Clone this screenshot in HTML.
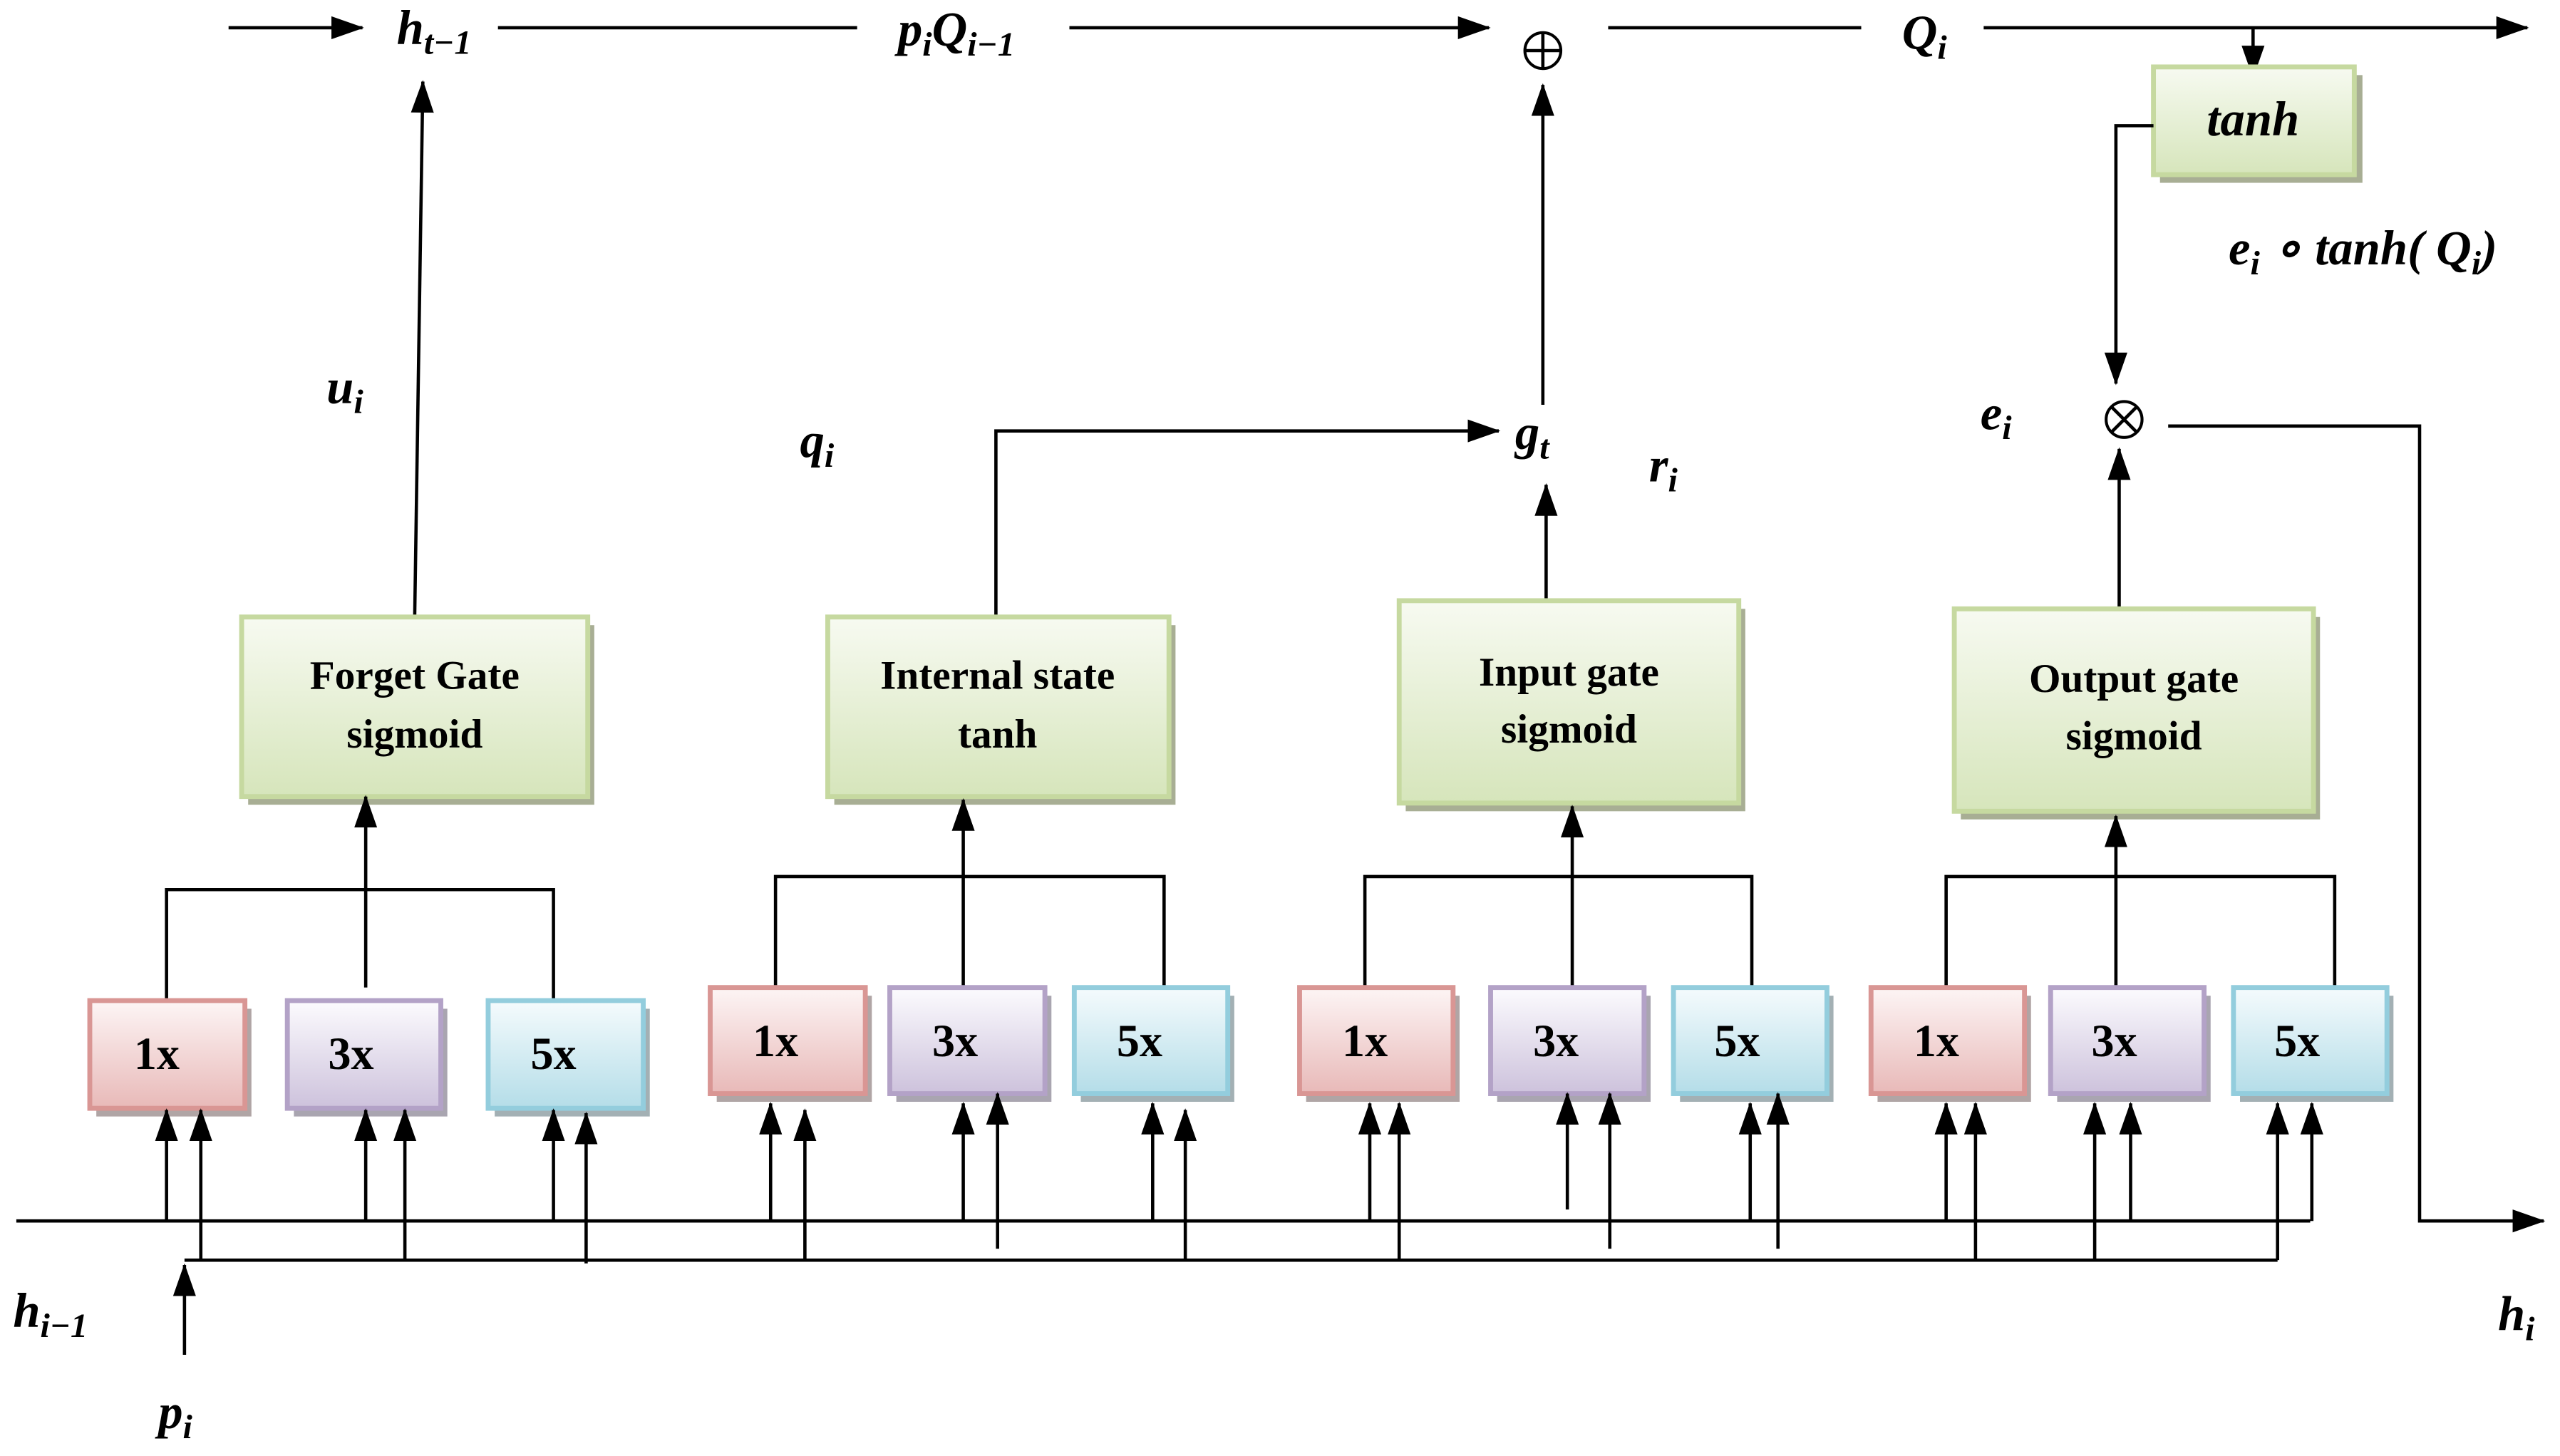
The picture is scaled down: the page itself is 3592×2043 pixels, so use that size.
<!DOCTYPE html>
<html><head><meta charset="utf-8"><style>
html,body{margin:0;padding:0;background:#fff;}
svg{display:block;}
.m{font-family:"Liberation Serif",serif;font-weight:bold;font-style:italic;font-size:30px;fill:#000;}
.s{font-size:21px;}
.b{font-family:"Liberation Serif",serif;font-weight:bold;font-size:25px;fill:#000;text-anchor:middle;}
.k{font-family:"Liberation Serif",serif;font-weight:bold;font-size:28px;fill:#000;text-anchor:middle;}
line,polyline{stroke:#000;stroke-width:2;fill:none;}
</style></head><body>
<svg width="3592" height="2043" viewBox="0 0 1568 892" preserveAspectRatio="none" xmlns="http://www.w3.org/2000/svg">
<defs>
<marker id="A" markerWidth="20" markerHeight="20" refX="19" refY="10" orient="auto" markerUnits="userSpaceOnUse" viewBox="0 0 20 20"><path d="M0,3 L20,10 L0,17 z" fill="#000"/></marker>
<linearGradient id="g" x1="0" y1="0" x2="0" y2="1"><stop offset="0" stop-color="#f7faf1"/><stop offset="1" stop-color="#d6e5bb"/></linearGradient>
<linearGradient id="r" x1="0" y1="0" x2="0" y2="1"><stop offset="0" stop-color="#fdf5f5"/><stop offset="1" stop-color="#e8b9b8"/></linearGradient>
<linearGradient id="p" x1="0" y1="0" x2="0" y2="1"><stop offset="0" stop-color="#fcfbfe"/><stop offset="1" stop-color="#cdc2dc"/></linearGradient>
<linearGradient id="c" x1="0" y1="0" x2="0" y2="1"><stop offset="0" stop-color="#f5fbfd"/><stop offset="1" stop-color="#b4dde8"/></linearGradient>
</defs>

<line x1="140" y1="17" x2="222" y2="17" marker-end="url(#A)"/>
<text class="m" x="243" y="27">h<tspan class="s" dy="6">t−1</tspan></text>
<line x1="305" y1="17" x2="525" y2="17"/>
<text class="m" x="550" y="28">p<tspan class="s" dy="6">i</tspan><tspan dy="-6">Q</tspan><tspan class="s" dy="6">i−1</tspan></text>
<line x1="655" y1="17" x2="912" y2="17" marker-end="url(#A)"/>
<circle cx="945" cy="31" r="11" fill="none" stroke="#000" stroke-width="1.8"/>
<line x1="934" y1="31" x2="956" y2="31" stroke-width="1.8"/><line x1="945" y1="20" x2="945" y2="42" stroke-width="1.8"/>
<line x1="985" y1="17" x2="1140" y2="17"/>
<text class="m" x="1165" y="30">Q<tspan class="s" dy="6">i</tspan></text>
<line x1="1215" y1="17" x2="1548" y2="17" marker-end="url(#A)"/>
<line x1="1380" y1="17" x2="1380" y2="47" marker-end="url(#A)"/>

<rect x="1323" y="46" width="124" height="66" fill="#a8ae94"/>
<rect x="1319" y="41" width="123" height="66" fill="url(#g)" stroke="#c6d9a0" stroke-width="3"/>
<text class="m" x="1380" y="83" text-anchor="middle">tanh</text>
<polyline points="1319,77 1296,77 1296,235" marker-end="url(#A)"/>
<text class="m" x="1365" y="162">e<tspan class="s" dy="6">i</tspan><tspan dy="-6"> ∘ tanh( Q</tspan><tspan class="s" dy="6">i</tspan><tspan dy="-6">)</tspan></text>
<text class="m" x="1213" y="263">e<tspan class="s" dy="6">i</tspan></text>
<circle cx="1301" cy="257" r="11" fill="none" stroke="#000" stroke-width="1.8"/>
<line x1="1293" y1="249" x2="1309" y2="265" stroke-width="1.8"/><line x1="1309" y1="249" x2="1293" y2="265" stroke-width="1.8"/>
<polyline points="1328,261 1482,261 1482,748 1558,748" marker-end="url(#A)"/>
<text class="m" x="1530" y="815">h<tspan class="s" dy="6">i</tspan></text>

<text class="m" x="200" y="247">u<tspan class="s" dy="6">i</tspan></text>
<text class="m" x="490" y="280">q<tspan class="s" dy="6">i</tspan></text>
<text class="m" x="928" y="275">g<tspan class="s" dy="6">t</tspan></text>
<text class="m" x="1010" y="295">r<tspan class="s" dy="6">i</tspan></text>
<text class="m" x="8" y="813">h<tspan class="s" dy="6">i−1</tspan></text>
<text class="m" x="97" y="875">p<tspan class="s" dy="6">i</tspan></text>

<line x1="254" y1="378" x2="259" y2="50" marker-end="url(#A)"/>
<polyline points="610,378 610,264 918,264" marker-end="url(#A)"/>
<line x1="945" y1="248" x2="945" y2="52" marker-end="url(#A)"/>
<line x1="947" y1="368" x2="947" y2="297" marker-end="url(#A)"/>
<line x1="1298" y1="373" x2="1298" y2="275" marker-end="url(#A)"/>

<g>
<rect x="152" y="383" width="212" height="110" fill="#a8ae94"/>
<rect x="148" y="378" width="212" height="110" fill="url(#g)" stroke="#c6d9a0" stroke-width="3"/>
<text class="b" x="254" y="422">Forget Gate</text><text class="b" x="254" y="458">sigmoid</text>
<rect x="511" y="383" width="209" height="110" fill="#a8ae94"/>
<rect x="507" y="378" width="209" height="110" fill="url(#g)" stroke="#c6d9a0" stroke-width="3"/>
<text class="b" x="611" y="422">Internal state</text><text class="b" x="611" y="458">tanh</text>
<rect x="861" y="373" width="208" height="124" fill="#a8ae94"/>
<rect x="857" y="368" width="208" height="124" fill="url(#g)" stroke="#c6d9a0" stroke-width="3"/>
<text class="b" x="961" y="420">Input gate</text><text class="b" x="961" y="455">sigmoid</text>
<rect x="1201" y="378" width="220" height="124" fill="#a8ae94"/>
<rect x="1197" y="373" width="220" height="124" fill="url(#g)" stroke="#c6d9a0" stroke-width="3"/>
<text class="b" x="1307" y="424">Output gate</text><text class="b" x="1307" y="459">sigmoid</text>
</g>

<polyline points="102,613 102,545 339,545 339,613"/>
<line x1="224" y1="605" x2="224" y2="488" marker-end="url(#A)"/>
<polyline points="475,605 475,537 713,537 713,605"/>
<line x1="590" y1="612" x2="590" y2="490" marker-end="url(#A)"/>
<polyline points="836,605 836,537 1073,537 1073,605"/>
<line x1="963" y1="605" x2="963" y2="494" marker-end="url(#A)"/>
<polyline points="1192,605 1192,537 1430,537 1430,605"/>
<line x1="1296" y1="605" x2="1296" y2="500" marker-end="url(#A)"/>

<g>
<rect x="59" y="618" width="95" height="66" fill="#b0a5a5"/><rect x="55" y="613" width="95" height="66" fill="url(#r)" stroke="#d99694" stroke-width="3"/><text class="k" x="96" y="655">1x</text>
<rect x="180" y="618" width="94" height="66" fill="#a9a5b0"/><rect x="176" y="613" width="94" height="66" fill="url(#p)" stroke="#b3a2c7" stroke-width="3"/><text class="k" x="215" y="655">3x</text>
<rect x="303" y="618" width="95" height="66" fill="#a3b0b4"/><rect x="299" y="613" width="95" height="66" fill="url(#c)" stroke="#93cddd" stroke-width="3"/><text class="k" x="339" y="655">5x</text>

<rect x="439" y="610" width="95" height="65" fill="#b0a5a5"/><rect x="435" y="605" width="95" height="65" fill="url(#r)" stroke="#d99694" stroke-width="3"/><text class="k" x="475" y="647">1x</text>
<rect x="549" y="610" width="95" height="65" fill="#a9a5b0"/><rect x="545" y="605" width="95" height="65" fill="url(#p)" stroke="#b3a2c7" stroke-width="3"/><text class="k" x="585" y="647">3x</text>
<rect x="662" y="610" width="94" height="65" fill="#a3b0b4"/><rect x="658" y="605" width="94" height="65" fill="url(#c)" stroke="#93cddd" stroke-width="3"/><text class="k" x="698" y="647">5x</text>

<rect x="800" y="610" width="94" height="65" fill="#b0a5a5"/><rect x="796" y="605" width="94" height="65" fill="url(#r)" stroke="#d99694" stroke-width="3"/><text class="k" x="836" y="647">1x</text>
<rect x="917" y="610" width="94" height="65" fill="#a9a5b0"/><rect x="913" y="605" width="94" height="65" fill="url(#p)" stroke="#b3a2c7" stroke-width="3"/><text class="k" x="953" y="647">3x</text>
<rect x="1029" y="610" width="94" height="65" fill="#a3b0b4"/><rect x="1025" y="605" width="94" height="65" fill="url(#c)" stroke="#93cddd" stroke-width="3"/><text class="k" x="1064" y="647">5x</text>

<rect x="1150" y="610" width="94" height="65" fill="#b0a5a5"/><rect x="1146" y="605" width="94" height="65" fill="url(#r)" stroke="#d99694" stroke-width="3"/><text class="k" x="1186" y="647">1x</text>
<rect x="1260" y="610" width="94" height="65" fill="#a9a5b0"/><rect x="1256" y="605" width="94" height="65" fill="url(#p)" stroke="#b3a2c7" stroke-width="3"/><text class="k" x="1295" y="647">3x</text>
<rect x="1372" y="610" width="94" height="65" fill="#a3b0b4"/><rect x="1368" y="605" width="94" height="65" fill="url(#c)" stroke="#93cddd" stroke-width="3"/><text class="k" x="1407" y="647">5x</text>
</g>

<line x1="10" y1="748" x2="1415" y2="748" stroke-width="2.5"/>
<line x1="113" y1="772" x2="1395" y2="772" stroke-width="2.5"/>
<line x1="113" y1="830" x2="113" y2="775" marker-end="url(#A)"/>

<g>
<line x1="102" y1="748" x2="102" y2="680" marker-end="url(#A)"/>
<line x1="123" y1="772" x2="123" y2="680" marker-end="url(#A)"/>
<line x1="224" y1="748" x2="224" y2="680" marker-end="url(#A)"/>
<line x1="248" y1="772" x2="248" y2="680" marker-end="url(#A)"/>
<line x1="339" y1="748" x2="339" y2="680" marker-end="url(#A)"/>
<line x1="359" y1="774" x2="359" y2="682" marker-end="url(#A)"/>

<line x1="472" y1="748" x2="472" y2="676" marker-end="url(#A)"/>
<line x1="493" y1="772" x2="493" y2="680" marker-end="url(#A)"/>
<line x1="590" y1="748" x2="590" y2="676" marker-end="url(#A)"/>
<line x1="611" y1="765" x2="611" y2="670" marker-end="url(#A)"/>
<line x1="706" y1="748" x2="706" y2="676" marker-end="url(#A)"/>
<line x1="726" y1="772" x2="726" y2="680" marker-end="url(#A)"/>

<line x1="839" y1="748" x2="839" y2="676" marker-end="url(#A)"/>
<line x1="857" y1="772" x2="857" y2="676" marker-end="url(#A)"/>
<line x1="960" y1="741" x2="960" y2="670" marker-end="url(#A)"/>
<line x1="986" y1="765" x2="986" y2="670" marker-end="url(#A)"/>
<line x1="1072" y1="748" x2="1072" y2="676" marker-end="url(#A)"/>
<line x1="1089" y1="765" x2="1089" y2="670" marker-end="url(#A)"/>

<line x1="1192" y1="748" x2="1192" y2="676" marker-end="url(#A)"/>
<line x1="1210" y1="772" x2="1210" y2="676" marker-end="url(#A)"/>
<line x1="1283" y1="772" x2="1283" y2="676" marker-end="url(#A)"/>
<line x1="1305" y1="748" x2="1305" y2="676" marker-end="url(#A)"/>
<line x1="1395" y1="772" x2="1395" y2="676" marker-end="url(#A)"/>
<line x1="1416" y1="748" x2="1416" y2="676" marker-end="url(#A)"/>
</g>
</svg>
</body></html>
